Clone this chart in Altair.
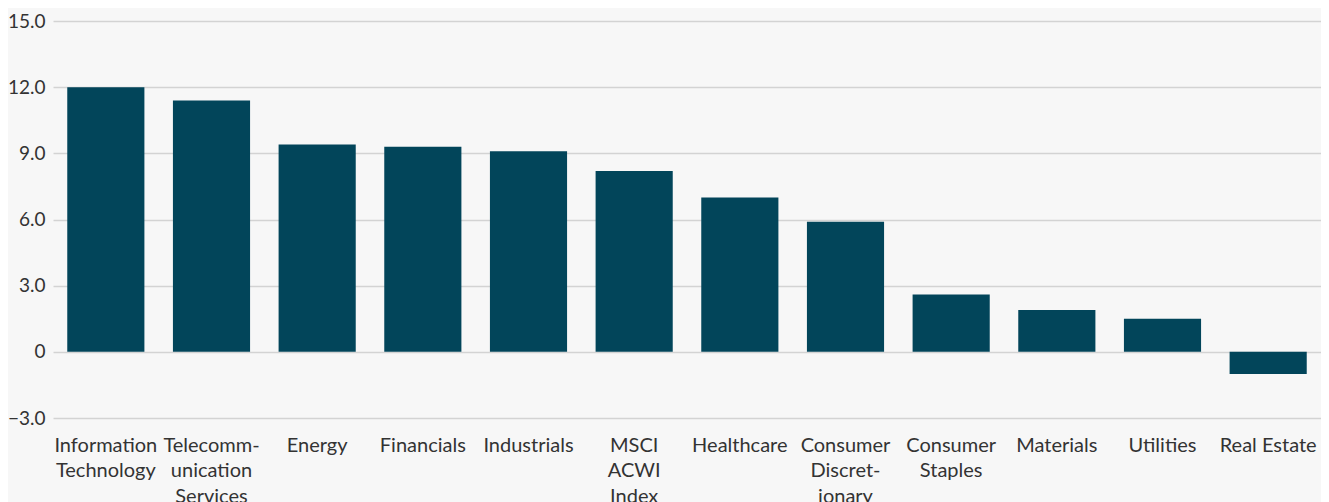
import altair as alt
import pandas as pd

categories = [
    "Information\nTechnology",
    "Telecomm-\nunication\nServices",
    "Energy",
    "Financials",
    "Industrials",
    "MSCI\nACWI\nIndex",
    "Healthcare",
    "Consumer\nDiscret-\nionary",
    "Consumer\nStaples",
    "Materials",
    "Utilities",
    "Real Estate",
]
values = [12.0, 11.4, 9.4, 9.3, 9.1, 8.2, 7.0, 5.9, 2.6, 1.9, 1.5, -1.0]
y_ticks = [-3, 0, 3, 6, 9, 12, 15]

df = pd.DataFrame({"sector": categories, "value": values})

FONT = "Lato"

chart = (
    alt.Chart(df)
    .mark_bar(color="#02455a")
    .encode(
        x=alt.X(
            "sector:N",
            sort=categories,
            scale=alt.Scale(paddingInner=0.27, paddingOuter=0.135),
            axis=alt.Axis(
                title=None,
                labelAngle=0,
                labelExpr="split(datum.label, '\\n')",
                labelFont=FONT,
                labelFontSize=20,
                labelColor="#333333",
                labelLineHeight=25.5,
                labelBaseline="top",
                labelPadding=17,
                ticks=False,
                domain=False,
                grid=False,
                labelLimit=200,
            ),
        ),
        y=alt.Y(
            "value:Q",
            scale=alt.Scale(domain=[-3, 15], nice=False, zero=False),
            axis=alt.Axis(
                title=None,
                values=y_ticks,
                labelExpr="datum.value == 0 ? '0' : format(datum.value, '.1f')",
                labelFont=FONT,
                labelFontSize=19,
                labelColor="#333333",
                labelPadding=8,
                ticks=False,
                domain=False,
                gridColor="#d3d3d3",
                gridWidth=1.5,
            ),
        ),
    )
    .properties(
        width=1268,
        height=397,
        background="#f7f7f7",
        padding={"left": 45, "top": 13, "right": 0, "bottom": 84},
        autosize=alt.AutoSizeParams(type="none"),
    )
    .configure_view(stroke=None)
)

chart.save("out.html", embed_options={"renderer": "svg", "actions": False})
